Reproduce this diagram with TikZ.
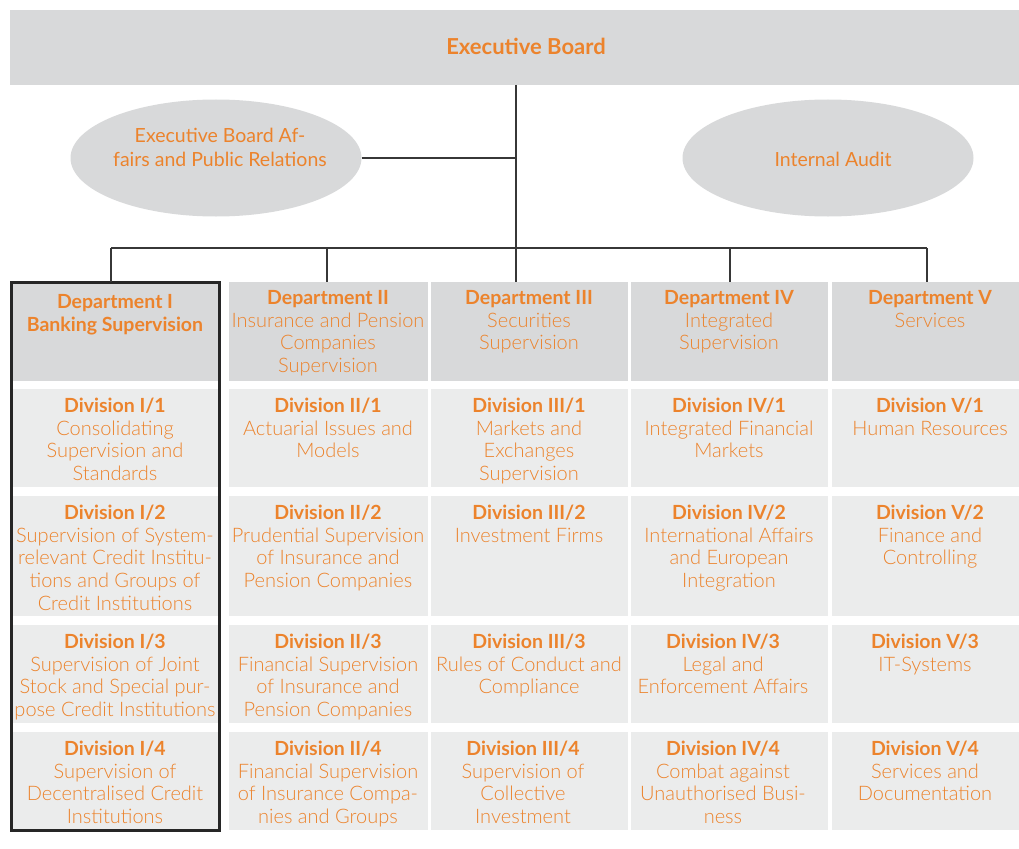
\documentclass[tikz,border=0pt]{standalone}
\usepackage{fontspec}
\IfFontExistsTF{Lato}{\setmainfont{Lato}}{}
\IfFontExistsTF{Lato Light}{\newfontfamily\lightf{Lato Light}}{\newcommand\lightf{}}
\usetikzlibrary{shapes.geometric}
\definecolor{org}{RGB}{236,131,44}
\definecolor{deptgrey}{RGB}{216,217,218}
\definecolor{divgrey}{RGB}{235,236,236}
\definecolor{linec}{RGB}{55,55,55}
\newcommand\hd[1]{{\normalfont\bfseries\fontsize{19.5}{22.8}\selectfont #1}}
\newcommand\cellx[9]{%
  \node[cellbox,fill=#2,minimum width={#5-#3},minimum height={#6-#4}] (#1) at (#3,#4) {};
  \node[celltext] (#1-t) at (#7,#4+#8-15) {\rule{0pt}{15pt}#9};
}
\tikzset{
  cellbox/.style={draw=none,inner sep=0pt,outer sep=0pt,anchor=north west},
  celltext/.style={anchor=north,align=center,inner sep=0pt,text=org,
    font=\lightf\fontsize{20}{22.8}\selectfont},
  oval/.style={ellipse,draw=none,fill=deptgrey,minimum width=291pt,minimum height=117pt,inner sep=0pt},
  ovaltext/.style={anchor=north,align=center,inner sep=0pt,text=org,
    font=\fontsize{19.5}{24}\selectfont},
  conn/.style={draw=linec,line width=1.2pt},
  frame/.style={draw=black!85,line width=3pt},
}
\begin{document}
\begin{tikzpicture}[x=1pt,y=-1pt]
\useasboundingbox (0,0) rectangle (1019,848);
% Executive board
\node[cellbox,fill=deptgrey,minimum width=1009pt,minimum height=75pt] (eb) at (10,10) {};
\node[anchor=base,inner sep=0pt,text=org,font=\bfseries\fontsize{22}{24}\selectfont] (eb-t) at (526,55) {Executive Board};
% ellipses
\node[oval] (pr) at (216,158) {};
\node[ovaltext] (pr-t) at (220,142-15) {\rule{0pt}{15pt}Executive Board Af-\\fairs and Public Relations};
\node[oval] (ia) at (828,158) {};
\node[ovaltext] (ia-t) at (833,166-15) {\rule{0pt}{15pt}Internal Audit};
% departments
\cellx{d1}{deptgrey}{10}{282}{221}{381}{115}{26}{\hd{Department I}\\\hd{Banking Supervision}}
\cellx{d2}{deptgrey}{229}{282}{428}{381}{328}{22}{\hd{Department II}\\Insurance and Pension\\Companies\\Supervision}
\cellx{d3}{deptgrey}{431}{282}{628}{381}{529}{22}{\hd{Department III}\\Securities\\Supervision}
\cellx{d4}{deptgrey}{631}{282}{828}{381}{729}{22}{\hd{Department IV}\\Integrated\\Supervision}
\cellx{d5}{deptgrey}{832}{282}{1019}{381}{930}{22}{\hd{Department V}\\Services}
% row 1
\cellx{a1}{divgrey}{10}{389}{221}{487}{115}{23}{\hd{Division I/1}\\Consolidating\\Supervision and\\Standards}
\cellx{a2}{divgrey}{229}{389}{428}{487}{328}{23}{\hd{Division II/1}\\Actuarial Issues and\\Models}
\cellx{a3}{divgrey}{431}{389}{628}{487}{529}{23}{\hd{Division III/1}\\Markets and\\Exchanges\\Supervision}
\cellx{a4}{divgrey}{631}{389}{828}{487}{729}{23}{\hd{Division IV/1}\\Integrated Financial\\Markets}
\cellx{a5}{divgrey}{832}{389}{1019}{487}{930}{23}{\hd{Division V/1}\\Human Resources}
% row 2
\cellx{b1}{divgrey}{10}{496}{221}{616}{115}{23}{\hd{Division I/2}\\Supervision of System-\\relevant Credit Institu-\\tions and Groups of\\Credit Institutions}
\cellx{b2}{divgrey}{229}{496}{428}{616}{328}{23}{\hd{Division II/2}\\Prudential Supervision\\of Insurance and\\Pension Companies}
\cellx{b3}{divgrey}{431}{496}{628}{616}{529}{23}{\hd{Division III/2}\\Investment Firms}
\cellx{b4}{divgrey}{631}{496}{828}{616}{729}{23}{\hd{Division IV/2}\\International Affairs\\and European\\Integration}
\cellx{b5}{divgrey}{832}{496}{1019}{616}{930}{23}{\hd{Division V/2}\\Finance and\\Controlling}
% row 3
\cellx{c1}{divgrey}{10}{625}{221}{723}{115}{23}{\hd{Division I/3}\\Supervision of Joint\\Stock and Special pur-\\pose Credit Institutions}
\cellx{c2}{divgrey}{229}{625}{428}{723}{328}{23}{\hd{Division II/3}\\Financial Supervision\\of Insurance and\\Pension Companies}
\cellx{c3}{divgrey}{431}{625}{628}{723}{529}{23}{\hd{Division III/3}\\Rules of Conduct and\\Compliance}
\cellx{c4}{divgrey}{631}{625}{828}{723}{723}{23}{\hd{Division IV/3}\\Legal and\\Enforcement Affairs}
\cellx{c5}{divgrey}{832}{625}{1019}{723}{925}{23}{\hd{Division V/3}\\IT-Systems}
% row 4
\cellx{e1}{divgrey}{10}{732}{221}{830}{115}{23}{\hd{Division I/4}\\Supervision of\\Decentralised Credit\\Institutions}
\cellx{e2}{divgrey}{229}{732}{428}{830}{328}{23}{\hd{Division II/4}\\Financial Supervision\\of Insurance Compa-\\nies and Groups}
\cellx{e3}{divgrey}{431}{732}{628}{830}{523}{23}{\hd{Division III/4}\\Supervision of\\Collective\\Investment}
\cellx{e4}{divgrey}{631}{732}{828}{830}{723}{23}{\hd{Division IV/4}\\Combat against\\Unauthorised Busi-\\ness}
\cellx{e5}{divgrey}{832}{732}{1019}{830}{925}{23}{\hd{Division V/4}\\Services and\\Documentation}
% frame round department I
\draw[frame] (11.5,282.5) rectangle (219.5,830);
% connectors
\coordinate (j1) at (111,248);
\coordinate (j2) at (327,248);
\coordinate (j3) at (516,248);
\coordinate (j4) at (730,248);
\coordinate (j5) at (927,248);
\draw[conn] (j3 |- eb.south) -- (j3);
\draw[conn] (pr.east) -- (pr.east -| j3);
\draw[conn] (j1) -- (j5);
\draw[conn] (j1) -- (j1 |- d1.north);
\draw[conn] (j2) -- (j2 |- d2.north);
\draw[conn] (j3) -- (j3 |- d3.north);
\draw[conn] (j4) -- (j4 |- d4.north);
\draw[conn] (j5) -- (j5 |- d5.north);
\end{tikzpicture}
\end{document}
